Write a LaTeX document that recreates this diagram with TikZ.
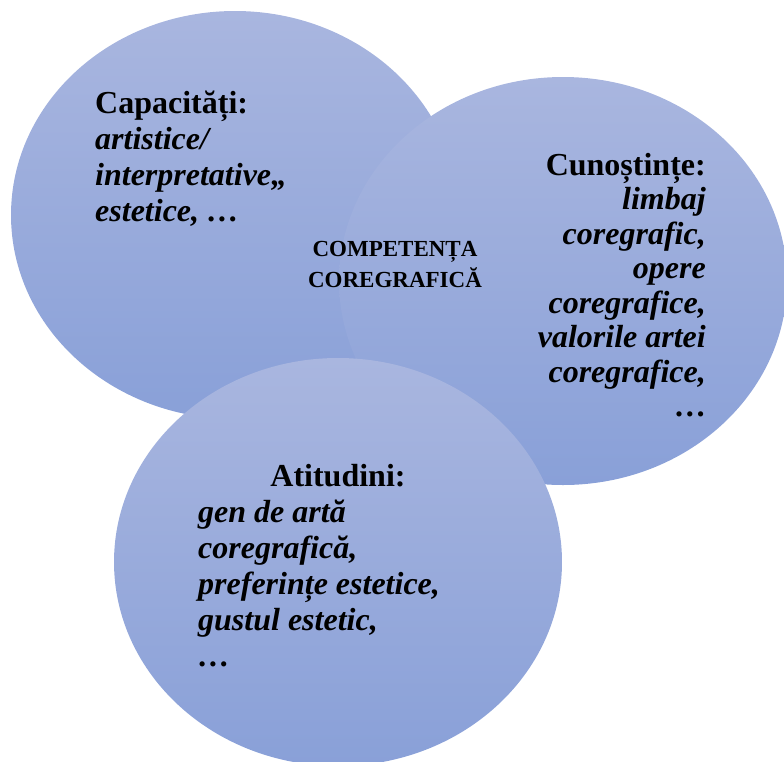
\documentclass[tikz,border=0pt]{standalone}
\usepackage{fontspec}
\setmainfont{Liberation Serif}
\usetikzlibrary{shapes.geometric, positioning}
\definecolor{bubbletop}{RGB}{169, 182, 223}
\definecolor{bubblebottom}{RGB}{137, 160, 216}

\begin{document}
\begin{tikzpicture}[
    x=1pt, y=-1pt,
    bubble/.style={ellipse, minimum width=448pt, minimum height=408pt, inner sep=0pt,
                   draw=none, top color=bubbletop, bottom color=bubblebottom},
    bubbletext/.style={inner sep=0pt, font=\fontsize{32}{36}\selectfont\bfseries},
    centertext/.style={inner sep=0pt, align=center, font=\fontsize{23}{31}\selectfont\bfseries}
]
\useasboundingbox (0,0) rectangle (784,761);
% three overlapping bubbles
\node[bubble] (bubbleA) at (235,215) {};
\node[bubble] (bubbleB) at (563,281) {};
\node[bubble] (bubbleC) at (338,562) {};
% texts
\node[bubbletext, align=left, anchor=north west] (capacitati) at (95,91)
    {Capacități:\\ \textit{artistice/}\\ \textit{interpretative,,}\\ \textit{estetice, …}};
\node[bubbletext, align=right, anchor=north east, font=\fontsize{32}{34.5}\selectfont\bfseries]
    (cunostinte) at (706,153)
    {Cunoștințe:\\ \textit{limbaj}\\ \textit{coregrafic,}\\ \textit{opere}\\ \textit{coregrafice,}\\
     \textit{valorile artei}\\ \textit{coregrafice,}\\ …};
\node[bubbletext, anchor=base] (atitudini) at (338,486) {Atitudini:};
\node[bubbletext, align=left, anchor=north west] (atitudinilist) at (198,500)
    {\textit{gen de artă}\\ \textit{coregrafică,}\\ \textit{preferințe estetice,}\\
     \textit{gustul estetic,}\\ \textit{…}};
\node[centertext, anchor=north] (competenta) at (395,241) {COMPETENȚA\\ COREGRAFICĂ};
\end{tikzpicture}
\end{document}
